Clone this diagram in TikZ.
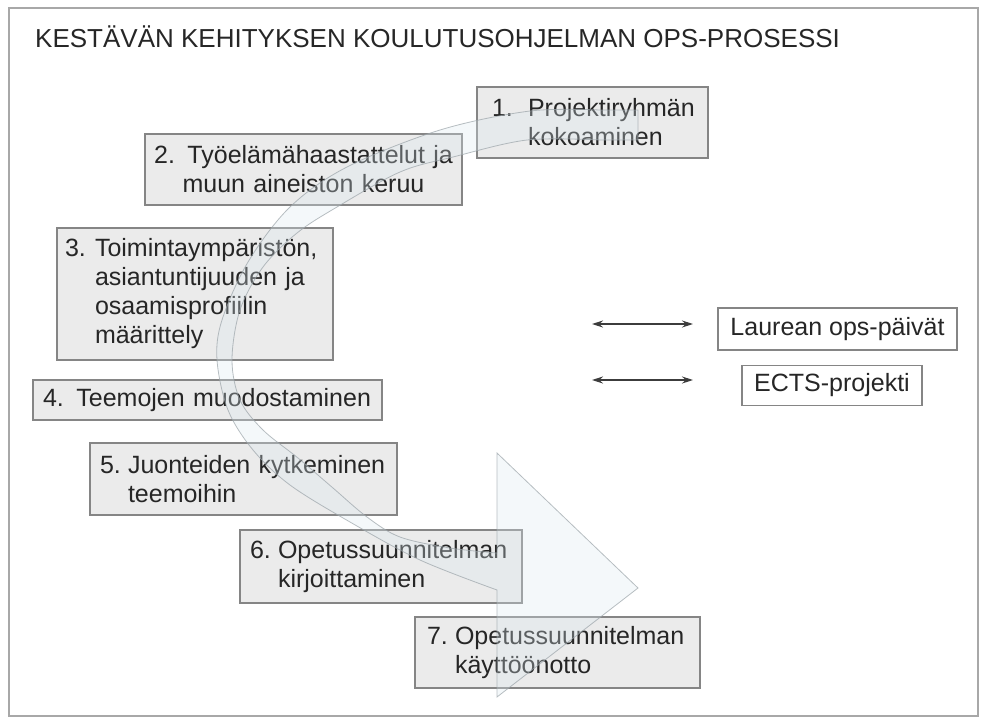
\documentclass[tikz,border=0pt]{standalone}
\usepackage{fontspec}
\setmainfont{Liberation Sans}
\usetikzlibrary{arrows.meta}
\definecolor{framegray}{HTML}{A8A8A8}
\definecolor{boxfill}{HTML}{EBEBEB}
\definecolor{boxline}{HTML}{858585}
\definecolor{bandfill}{HTML}{DCE9F0}
\definecolor{bandline}{HTML}{9AA3A8}
\definecolor{inkgray}{HTML}{262626}
\newcommand{\numlbl}[2]{\makebox[#1][l]{#2}}
\begin{document}
\begin{tikzpicture}[x=1pt,y=-1pt,
  every node/.style={text=inkgray},
  stepbox/.style={draw=boxline, fill=boxfill, line width=1.6pt, align=left,
    inner ysep=0pt, font=\fontsize{25}{29}\selectfont},
  sidebox/.style={draw=boxline, fill=white, line width=1.2pt, inner sep=0pt,
    font=\fontsize{25}{29}\selectfont},
  link/.style={draw=inkgray!90, line width=1.2pt,
    {Stealth[length=11pt,width=7pt]}-{Stealth[length=11pt,width=7pt]}},
  band/.style={fill=bandfill, fill opacity=0.3, draw=bandline, draw opacity=0.7, line width=0.8pt}
]
\useasboundingbox (0,0) rectangle (982,718);
% outer frame
\draw[framegray, line width=2pt] (9,8) rectangle (978,716);

% title
\node[anchor=base west, inner sep=0pt, font=\fontsize{26}{30}\selectfont] (title) at (35,47)
  {KESTÄVÄN KEHITYKSEN KOULUTUSOHJELMAN OPS-PROSESSI};

% process steps
\node[stepbox, text width=201pt, inner xsep=15pt, minimum height=71pt] (s1) at (592.5,122.5)
  {\numlbl{36pt}{1.}Projektiryhmän\\\hspace*{36pt}kokoaminen};
\node[stepbox, align=center, text width=309pt, inner xsep=4pt, minimum height=71pt] (s2) at (303.5,169.5)
  {2. Työelämähaastattelut ja\\muun aineiston keruu};
\node[stepbox, text width=260pt, inner xsep=8pt, minimum height=132pt] (s3) at (195,294)
  {\numlbl{30pt}{3.}Toimintaympäristön,\\\hspace*{30pt}asiantuntijuuden ja\\\hspace*{30pt}osaamisprofiilin\\\hspace*{30pt}määrittely};
\node[stepbox, text width=329pt, inner xsep=10pt, minimum height=40pt] (s4) at (207.5,400)
  {\mbox{4. Teemojen muodostaminen}};
\node[stepbox, text width=287pt, inner xsep=10pt, minimum height=72pt] (s5) at (243.5,479)
  {\numlbl{28pt}{5.}Juonteiden kytkeminen\\\hspace*{28pt}teemoihin};
\node[stepbox, text width=262pt, inner xsep=10pt, minimum height=73pt] (s6) at (381,566.5)
  {\numlbl{28pt}{6.}Opetussuunnitelman\\\hspace*{28pt}kirjoittaminen};
\node[stepbox, text width=261pt, inner xsep=12pt, minimum height=71pt] (s7) at (557.5,652.5)
  {\numlbl{28pt}{7.}Opetussuunnitelman\\\hspace*{28pt}käyttöönotto};

% curved process arrow laid over the steps
\path[band] (638,140) -- (638,110)
  -- plot[smooth, tension=0.55] coordinates {(600,110) (530,111) (440,130) (347,167) (290,207) (248,262) (222,320) (217,360) (228,410) (253,450) (290,485) (350,522) (420,560) (497,590)}
  -- (497,697) -- (638,588) -- (497,453) -- (497,553)
  -- plot[smooth, tension=0.55] coordinates {(497,553) (450,548) (400,537) (367,517) (333,488) (298,458) (263,430) (240,400) (232,360) (240,310) (263,267) (297,233) (337,207) (400,172) (453,157) (527,140) (600,140)}
  -- cycle;

% related activities
\node[sidebox, minimum width=239pt, minimum height=42pt] (laurea) at (837.5,329) {Laurean ops-päivät};
\node[sidebox, minimum width=180pt, minimum height=40pt] (ects) at (832,385.5) {ECTS-projekti};
\coordinate (la) at (592,324);
\coordinate (lb) at (693,324);
\coordinate (ea) at (592,380);
\coordinate (eb) at (693,380);
\draw[link] (la) -- (lb);
\draw[link] (ea) -- (eb);
\end{tikzpicture}
\end{document}
